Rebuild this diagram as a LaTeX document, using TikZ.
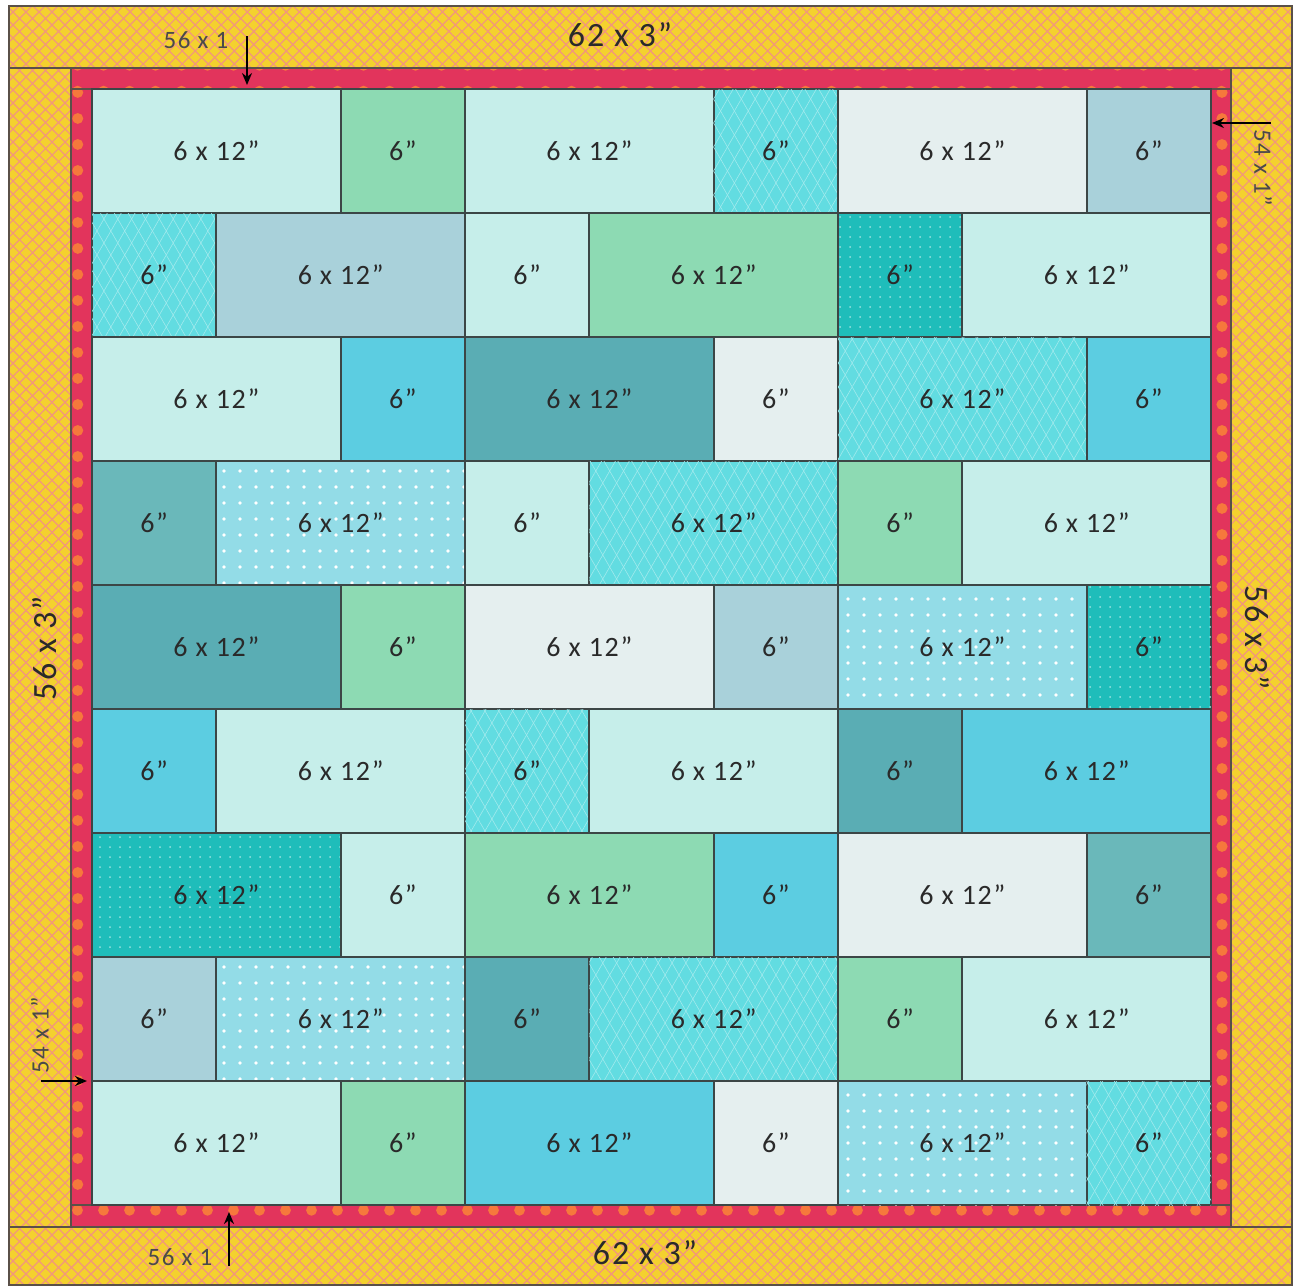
\documentclass[tikz,border=0pt]{standalone}
\usepackage{fontspec}
\setmainfont{Carlito}
\newfontfamily\lblfont[LetterSpace=6.0]{Carlito}
\usetikzlibrary{patterns.meta,arrows.meta}
\definecolor{cYel}{HTML}{F4D12E}
\definecolor{cSal}{HTML}{F2967C}
\definecolor{cRed}{HTML}{E2345C}
\definecolor{cOra}{HTML}{F6783C}
\definecolor{cEdge}{HTML}{5A5048}
\definecolor{cLine}{HTML}{3C4646}
\definecolor{cTxt}{HTML}{2A2A2A}
\definecolor{cPA}{HTML}{C6EEEA}
\definecolor{cGR}{HTML}{8DDAB3}
\definecolor{cTQ}{HTML}{62DCE1}
\definecolor{cLW}{HTML}{E5EFEF}
\definecolor{cGB}{HTML}{A9D1DA}
\definecolor{cTD}{HTML}{1FBDBA}
\definecolor{cSB}{HTML}{5CCDE1}
\definecolor{cDT}{HTML}{5AADB4}
\definecolor{cTM}{HTML}{6AB8BA}
\definecolor{cDB}{HTML}{93DCE7}
\tikzset{
  yel/.style={preaction={fill=cYel},
    pattern={Lines[angle=45,distance=4.6pt,line width=0.6pt]}, pattern color=cSal,
    postaction={pattern={Lines[angle=-45,distance=4.6pt,line width=0.6pt]}, pattern color=cSal},
    postaction={draw=cEdge,line width=1pt}},
  redb/.style={preaction={fill=cRed},
    pattern={Dots[radius=2.8pt,distance=13pt]}, pattern color=cOra,
    postaction={draw=cEdge,line width=1pt}},
  block/.style={draw=cLine,line width=1pt},
  qPA/.style={fill=cPA},
  qGR/.style={fill=cGR},
  qTQ/.style={fill=cTQ,postaction={pattern={Lines[angle=60,distance=6pt,line width=0.3pt]},pattern color=cTQ!60!white},
              postaction={pattern={Lines[angle=-60,distance=6pt,line width=0.3pt]},pattern color=cTQ!60!white}},
  qLW/.style={fill=cLW},
  qGB/.style={fill=cGB},
  qTD/.style={fill=cTD,postaction={pattern={Dots[radius=0.5pt,distance=5pt]},pattern color=cTD!45!white}},
  qSB/.style={fill=cSB},
  qDT/.style={fill=cDT},
  qTM/.style={fill=cTM},
  qDB/.style={fill=cDB,postaction={pattern={Dots[radius=0.9pt,distance=8pt]},pattern color=white}},
  lbl/.style={font=\lblfont\fontsize{14}{16}\selectfont,text=cTxt,inner sep=0pt},
  biglbl/.style={font=\lblfont\fontsize{17}{19}\selectfont,text=cTxt,inner sep=0pt},
  smalllbl/.style={font=\lblfont\fontsize{12.5}{14}\selectfont,text=cTxt!85!white,inner sep=0pt},
  arr/.style={draw=black,line width=1pt,-{Stealth[length=6pt,width=5pt]}}
}
\begin{document}
\begin{tikzpicture}[x=0.5pt,y=-0.5pt]
\path[use as bounding box,fill=white] (0,0) rectangle (1296,1287);
% outer yellow border
\path[yel] (9,6) rectangle (1292,68);
\path[yel] (9,1227) rectangle (1292,1285);
\path[yel] (9,68) rectangle (71,1227);
\path[yel] (1231,68) rectangle (1292,1227);
% red border
\path[redb] (71,68) rectangle (1231,89);
\path[redb] (71,1205) rectangle (1231,1227);
\path[redb] (71,89) rectangle (92,1205);
\path[redb] (1211,89) rectangle (1231,1205);
% blocks
\foreach \r/\row in {
 0/{0/2/PA,2/1/GR,3/2/PA,5/1/TQ,6/2/LW,8/1/GB},
 1/{0/1/TQ,1/2/GB,3/1/PA,4/2/GR,6/1/TD,7/2/PA},
 2/{0/2/PA,2/1/SB,3/2/DT,5/1/LW,6/2/TQ,8/1/SB},
 3/{0/1/TM,1/2/DB,3/1/PA,4/2/TQ,6/1/GR,7/2/PA},
 4/{0/2/DT,2/1/GR,3/2/LW,5/1/GB,6/2/DB,8/1/TD},
 5/{0/1/SB,1/2/PA,3/1/TQ,4/2/PA,6/1/DT,7/2/SB},
 6/{0/2/TD,2/1/PA,3/2/GR,5/1/SB,6/2/LW,8/1/TM},
 7/{0/1/GB,1/2/DB,3/1/DT,4/2/TQ,6/1/GR,7/2/PA},
 8/{0/2/PA,2/1/GR,3/2/SB,5/1/LW,6/2/DB,8/1/TQ}}{
  \foreach \s/\w/\c in \row {
    \pgfmathsetmacro\xa{92+\s*124.333}
    \pgfmathsetmacro\xb{92+(\s+\w)*124.333}
    \pgfmathsetmacro\ya{89+\r*124}
    \pgfmathsetmacro\yb{89+(\r+1)*124}
    \path[block,q\c] (\xa,\ya) rectangle (\xb,\yb);
    \node[lbl] (b\r-\s) at ({(\xa+\xb)/2},{(\ya+\yb)/2}) {\ifnum\w=2\relax 6 x 12”\else 6”\fi};
  }
}
% big labels
\node[biglbl] (ttop) at (620,35) {62 x 3”};
\node[biglbl] (tbot) at (645,1253) {62 x 3”};
\node[biglbl,rotate=90] (tleft) at (45,648) {56 x 3”};
\node[biglbl,rotate=-90] (tright) at (1257,638) {56 x 3”};
% small labels and arrows
\node[smalllbl] (t56top) at (196,40) {56 x 1};
\coordinate (a1s) at (247,36);
\coordinate (a1e) at (247,85);
\draw[arr] (a1s) -- (a1e);
\node[smalllbl] (t56bot) at (180,1257) {56 x 1};
\coordinate (a2s) at (229,1266);
\coordinate (a2e) at (229,1212);
\draw[arr] (a2s) -- (a2e);
\node[smalllbl,rotate=-90] (t54r) at (1263,168) {54 x 1”};
\coordinate (a3s) at (1271,123);
\coordinate (a3e) at (1212,123);
\draw[arr] (a3s) -- (a3e);
\node[smalllbl,rotate=90] (t54l) at (40,1035) {54 x 1”};
\coordinate (a4s) at (41,1081);
\coordinate (a4e) at (87,1081);
\draw[arr] (a4s) -- (a4e);
\end{tikzpicture}
\end{document}
